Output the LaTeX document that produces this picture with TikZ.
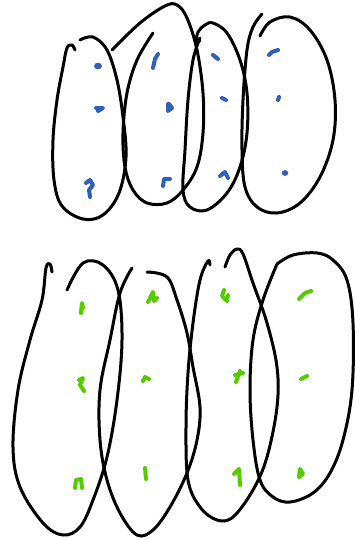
\documentclass[tikz,border=0pt]{standalone}
\begin{document}
\begin{tikzpicture}[x=1pt,y=-1pt,
  loop/.style={line width=3pt,line cap=round,line join=round,black},
  bmark/.style={line width=4pt,line cap=round,line join=round,color={rgb,255:red,48;green,96;blue,184}},
  gmark/.style={line width=4pt,line cap=round,line join=round,color={rgb,255:red,85;green,204;blue,0}}]
\useasboundingbox (0,0) rectangle (354,539);
% ---- top group ----
\draw[loop] plot[smooth,tension=0.6] coordinates {(75,50)(72,45)(67,48)(63,67)(57,100)(53,140)(54,180)(62,206)(83,219)(103,215)(119,193)(126,157)(123,117)(117,80)(107,50)(93,37)(80,40)};
\draw[loop] plot[smooth,tension=0.6] coordinates {(112,50)(140,23)(165,6)(177,5)(187,18)(197,50)(203,93)(203,133)(197,167)(183,190)(167,203)(147,203)(133,190)(125,167)(123,133)(127,93)(137,60)(153,33)};
\draw[loop] plot[smooth,tension=0.6] coordinates {(200,40)(196,44)(198,32)(205,25)(213,23)(227,33)(240,60)(247,93)(247,133)(240,167)(227,193)(207,210)(190,207)(183,190)(185,150)(188,100)(193,60)(200,38)};
\draw[loop] plot[smooth,tension=0.6] coordinates {(262,14)(253,27)(247,50)(243,100)(242,150)(245,187)(257,207)(277,213)(300,203)(320,177)(333,140)(335,100)(327,60)(310,30)(290,17)(270,22)(260,36)};
% blue marks
\fill[color={rgb,255:red,48;green,96;blue,184}] (98,66) ellipse (4 and 3.3);
\draw[bmark] (96,108) -- (103,108) -- (98,111);
\draw[bmark] (86,183) -- (90,180) -- (93,185) -- (89,190) -- (90,197);
\draw[bmark] (153,68) -- (155,59) -- (158,54);
\draw[bmark] (168,104) -- (168,111) -- (172,108) -- (169,104);
\draw[bmark] (163,186) -- (164,179) -- (170,179);
\draw[bmark] (213,55) -- (218,59);
\draw[bmark] (222,98) -- (226,100);
\draw[bmark] (220,176) -- (225,172) -- (228,178);
\draw[bmark] (269,55) -- (272,52) -- (278,50);
\draw[bmark] (279,97) -- (278,100);
\fill[color={rgb,255:red,48;green,96;blue,184}] (285,173) ellipse (3.3 and 2.9);
% ---- bottom group ----
\draw[loop] plot[smooth,tension=0.6] coordinates {(52,272)(50,264)(46,268)(42,300)(30,340)(18,390)(13,447)(20,487)(43,523)(63,535)(80,527)(93,500)(107,457)(117,400)(122,340)(118,290)(103,265)(83,263)(67,290)};
\draw[loop] plot[smooth,tension=0.6] coordinates {(132,268)(120,293)(110,340)(100,390)(100,440)(107,480)(120,513)(137,535)(153,530)(170,507)(187,473)(197,440)(200,407)(193,367)(187,333)(177,300)(167,277)(147,272)};
\draw[loop] plot[smooth,tension=0.6] coordinates {(210,265)(208,261)(200,280)(193,323)(188,373)(186,427)(188,480)(200,507)(217,520)(233,517)(253,490)(267,457)(277,407)(277,367)(267,323)(253,283)(243,254)(237,249)(230,255)(225,267)};
\draw[loop] plot[smooth,tension=0.6] coordinates {(277,264)(293,255)(317,253)(333,260)(347,280)(353,323)(352,390)(343,440)(330,473)(313,493)(290,502)(273,497)(260,480)(253,440)(250,390)(253,340)(263,300)(277,264)};
% green marks
\draw[gmark] (81,313) -- (82,303) -- (83,308);
\draw[gmark] (79,380) -- (83,378) -- (80,385) -- (84,391);
\draw[gmark] (75,488) -- (76,480) -- (81,479) -- (82,488);
\draw[gmark] (148,302) -- (153,292) -- (154,301) -- (157,298);
\draw[gmark] (143,381) -- (145,377) -- (149,379);
\draw[gmark] (145,468) -- (146,479);
\draw[gmark] (224,290) -- (222,296) -- (227,301) -- (228,295);
\draw[gmark] (236,382) -- (240,371) ; \draw[gmark] (235,375) -- (243,373);
\draw[gmark] (234,474) -- (239,469) -- (240,485);
\draw[gmark] (299,299) -- (305,293) -- (311,291);
\draw[gmark] (301,379) -- (307,376);
\draw[gmark] (299,477) -- (300,469) -- (303,474) -- (299,477);
\end{tikzpicture}
\end{document}
